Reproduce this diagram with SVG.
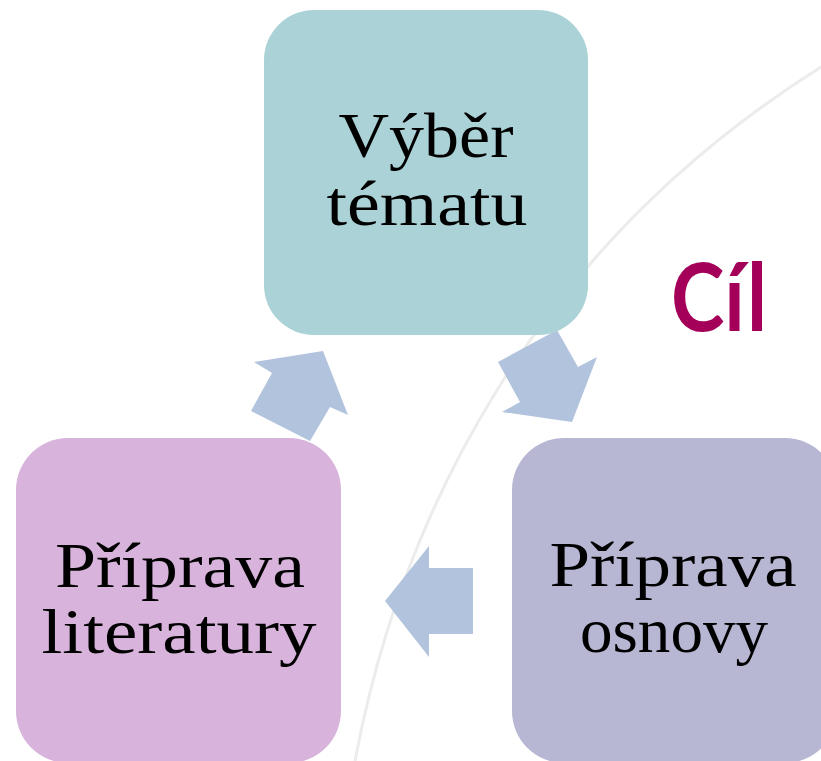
<svg xmlns="http://www.w3.org/2000/svg" width="821" height="761" viewBox="0 0 821 761">
  <style>
    .lbl { font-family: "Liberation Serif", "Times New Roman", serif; font-size: 64px; fill: #000000; text-anchor: middle; }
    .arrow { fill: #b2c3dd; }
    .goal { font-family: Lato, "Liberation Sans", sans-serif; font-weight: bold; font-size: 94px; fill: #a4005a; }
  </style>
  <rect width="821" height="761" fill="#ffffff"/>
  <path d="M 355 761 C 400 520, 530 250, 821 67" fill="none" stroke="#ececec" stroke-width="3"/>
  <g id="connectors">
    <polygon class="arrow" points="323,351 254,362 272,373 251,411 310,441 330,407 348,415"/>
    <polygon class="arrow" points="557,330 498,362 520,402 502,412 572,422 597,357 578,367"/>
    <polygon class="arrow" points="385,601 429,546 429,568 473,568 473,634 429,634 429,657"/>
  </g>
  <g id="node-vyber">
    <rect x="264" y="10" width="324" height="325" rx="50" ry="50" fill="#abd2d6"/>
    <text class="lbl" x="426" y="157" textLength="175" lengthAdjust="spacingAndGlyphs">Výběr</text>
    <text class="lbl" x="427" y="225" textLength="201" lengthAdjust="spacingAndGlyphs">tématu</text>
  </g>
  <g id="node-literatura">
    <rect x="16" y="438" width="325" height="325" rx="52" ry="52" fill="#d8b3dc"/>
    <text class="lbl" x="180" y="587" textLength="250" lengthAdjust="spacingAndGlyphs">Příprava</text>
    <text class="lbl" x="179" y="653" textLength="275" lengthAdjust="spacingAndGlyphs">literatury</text>
  </g>
  <g id="node-osnova">
    <rect x="512" y="438" width="325" height="325" rx="52" ry="52" fill="#b7b7d4"/>
    <text class="lbl" x="673" y="586" textLength="247" lengthAdjust="spacingAndGlyphs">Příprava</text>
    <text class="lbl" x="674" y="652" textLength="188" lengthAdjust="spacingAndGlyphs">osnovy</text>
  </g>
  <g id="label-cil">
    <text class="goal" x="671" y="331" textLength="96" lengthAdjust="spacingAndGlyphs">Cíl</text>
  </g>
</svg>
